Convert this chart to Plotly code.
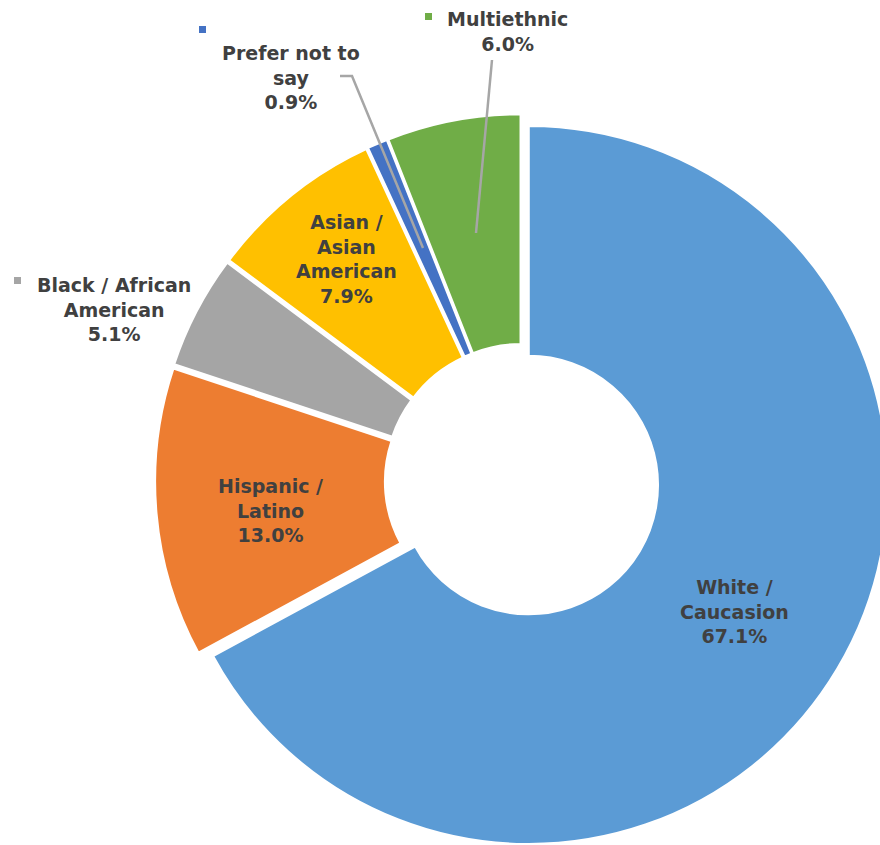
import plotly.graph_objects as go

# ---- data ----
labels = ["White / Caucasion", "Hispanic / Latino", "Black / African American",
          "Asian / Asian American", "Prefer not to say", "Multiethnic"]
label_lines = ["White /<br>Caucasion", "Hispanic /<br>Latino", "Black / African<br>American",
               "Asian /<br>Asian<br>American", "Prefer not to<br>say", "Multiethnic"]
values = [67.1, 13.0, 5.1, 7.9, 0.9, 6.0]
colors = ["#5B9BD5", "#ED7D31", "#A5A5A5", "#FFC000", "#4472C4", "#70AD47"]

# ---- layout helpers (page pixel -> paper) ----
W, H = 892, 852   # slightly larger than the window so the big slice is cut at the edge
def px(x):
    return x / W
def py(y):
    return 1 - y / H

# label block centres in page pixels
label_pos = [(734, 611), (270, 510), (114, 309), (346, 259), (291, 77), (507, 32)]
# legend key squares (page pixel box) for outside labels
key_boxes = {2: (14, 277, 21, 284), 4: (199, 26, 206, 33), 5: (425, 13, 432, 20)}
TEXT_COLOR = "#404040"
LEADER = "#A6A6A6"

PULL = 0.022
R = 359
box = 2 * R * (1 + PULL)
cx_fig = 522
cy_fig = 481
fig = go.Figure(go.Pie(
    labels=labels,
    values=values,
    sort=False,
    direction="clockwise",
    rotation=0,
    hole=0.36,
    pull=[PULL] * len(values),
    marker=dict(colors=colors, line=dict(color="white", width=2)),
    textinfo="none",
    hoverinfo="label+percent",
    domain=dict(x=[(cx_fig - box / 2) / W, min(1.0, (cx_fig + box / 2) / W)],
                y=[max(0.0, 1 - (cy_fig + box / 2) / H), 1 - (cy_fig - box / 2) / H]),
))

annotations = []
for i, (txt, v) in enumerate(zip(label_lines, values)):
    x, y = label_pos[i]
    annotations.append(dict(
        x=px(x), y=py(y), xref="paper", yref="paper",
        text=f"{txt}<br>{v:.1f}%", showarrow=False,
        xanchor="center", yanchor="middle", align="center",
        font=dict(family="DejaVu Sans", size=19, color=TEXT_COLOR, weight="bold"),
    ))

shapes = []
for i, (x0, y0, x1, y1) in key_boxes.items():
    shapes.append(dict(type="rect", xref="paper", yref="paper",
                       x0=px(x0), x1=px(x1), y0=py(y1), y1=py(y0),
                       fillcolor=colors[i], line=dict(width=0)))

# leader lines
shapes.append(dict(type="line", xref="paper", yref="paper",
                   x0=px(492), y0=py(60), x1=px(476), y1=py(233),
                   line=dict(color=LEADER, width=2.5)))
shapes.append(dict(type="path", xref="paper", yref="paper",
                   path=f"M {px(340)},{py(76)} L {px(352)},{py(76)} L {px(423)},{py(248)}",
                   line=dict(color=LEADER, width=2.5)))

fig.update_layout(
    width=W, height=H,
    margin=dict(l=0, r=0, t=0, b=0),
    paper_bgcolor="white", plot_bgcolor="white",
    showlegend=False,
    annotations=annotations,
    shapes=shapes,
)

fig.write_html("out.html",
               config={"displayModeBar": False},
               post_script="document.body.style.margin='0';document.body.style.overflow='hidden';")
